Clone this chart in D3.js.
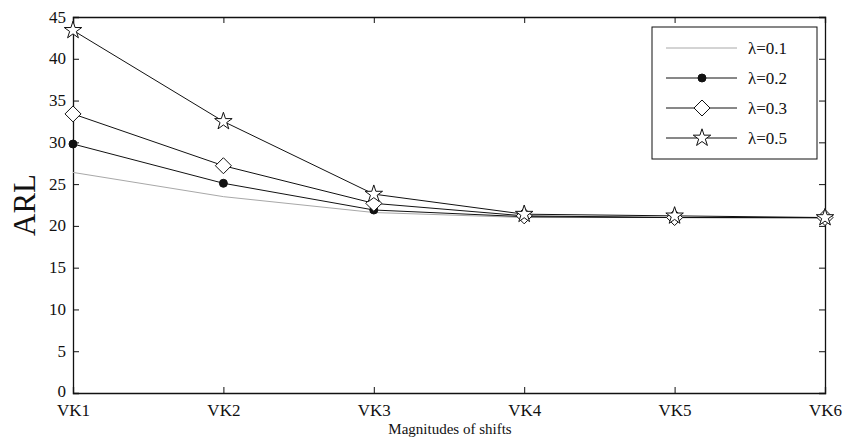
<!DOCTYPE html>
<html>
<head>
<meta charset="utf-8">
<script src="https://cdn.jsdelivr.net/npm/d3@7"></script>
<style>
  html, body { margin: 0; padding: 0; background: #fff; }
  #chart { width: 856px; height: 446px; }
  svg text { font-family: "Liberation Serif", "DejaVu Serif", serif !important; fill: #111; }
</style>
</head>
<body>
<div id="chart"></div>
<script>
// 数据
const categories = ["VK1", "VK2", "VK3", "VK4", "VK5", "VK6"];
const yTicks = [0, 5, 10, 15, 20, 25, 30, 35, 40, 45];
const seriesNames = ["λ=0.1", "λ=0.2", "λ=0.3", "λ=0.5"];
const lambda01 = [26.4, 23.5, 21.6, 21.0, 21.0, 20.9];
const lambda02 = [29.8, 25.1, 21.9, 21.1, 21.0, 21.0];
const lambda03 = [33.4, 27.2, 22.7, 21.2, 21.0, 21.0];
const lambda05 = [43.4, 32.5, 23.8, 21.4, 21.2, 21.0];

document.addEventListener("DOMContentLoaded", () => {
    const width = 856, height = 446;
    const margin = { left: 73, right: 31, top: 17, bottom: 53 };
    const innerW = width - margin.left - margin.right;
    const innerH = height - margin.top - margin.bottom;
    const serif = "'Liberation Serif', 'DejaVu Serif', serif";

    const svg = d3.select("#chart").append("svg")
        .attr("width", width)
        .attr("height", height);

    const g = svg.append("g")
        .attr("transform", `translate(${margin.left},${margin.top})`);

    const x = d3.scalePoint().domain(categories).range([0, innerW]);
    const y = d3.scaleLinear().domain([0, 45]).range([innerH, 0]);

    // 系列定义
    const series = [
        { name: seriesNames[0], values: lambda01, color: "#a8a8a8", width: 1, marker: null },
        { name: seriesNames[1], values: lambda02, color: "#111", width: 1, marker: "circle" },
        { name: seriesNames[2], values: lambda03, color: "#111", width: 1, marker: "diamond" },
        { name: seriesNames[3], values: lambda05, color: "#111", width: 1, marker: "star" }
    ];

    const line = d3.line()
        .x((d, i) => x(categories[i]))
        .y(d => y(d));

    // 坐标轴（刻度朝内，四边框）
    const tickLen = 6;
    const axisBottom = g.append("g")
        .attr("transform", `translate(0,${innerH})`)
        .call(d3.axisBottom(x).tickSize(-tickLen).tickPadding(11));
    const axisTop = g.append("g")
        .call(d3.axisTop(x).tickSize(-tickLen).tickFormat(""));
    const axisLeft = g.append("g")
        .call(d3.axisLeft(y).tickValues(yTicks).tickSize(-tickLen).tickPadding(7));
    const axisRight = g.append("g")
        .attr("transform", `translate(${innerW},0)`)
        .call(d3.axisRight(y).tickValues(yTicks).tickSize(-tickLen).tickFormat(""));

    [axisBottom, axisTop, axisLeft, axisRight].forEach(a => {
        a.attr("font-family", null).attr("font-size", null);
        a.select(".domain").attr("stroke", "#111").attr("stroke-width", 1.3);
        a.selectAll(".tick line").attr("stroke", "#111");
        a.selectAll("text")
            .style("font-family", serif)
            .style("font-size", "17px")
            .attr("fill", "#111");
    });
    axisBottom.selectAll("text").attr("dy", "0.68em");
    axisLeft.selectAll("text").attr("dy", d => d === 0 ? "0.2em" : "0.3em");

    // 标记符号
    const diamondPath = () => {
        const r = 8;
        return `M0,${-r}L${r},0L0,${r}L${-r},0Z`;
    };
    const symbols = {
        circle: d3.symbol().type(d3.symbolCircle).size(50),
        diamond: diamondPath,
        star: d3.symbol().type(d3.symbolStar).size(95)
    };

    function drawMarker(sel, marker) {
        sel.append("path")
            .attr("d", symbols[marker]())
            .attr("fill", marker === "circle" ? "#111" : "#fff")
            .attr("stroke", "#111")
            .attr("stroke-width", 1);
    }

    // 绘制折线与标记
    series.forEach(s => {
        g.append("path")
            .datum(s.values)
            .attr("fill", "none")
            .attr("stroke", s.color)
            .attr("stroke-width", s.width)
            .attr("d", line);
    });
    series.forEach(s => {
        if (!s.marker) return;
        s.values.forEach((v, i) => {
            const m = g.append("g")
                .attr("transform", `translate(${x(categories[i])},${y(v)})`);
            drawMarker(m, s.marker);
        });
    });

    // 图例
    const legend = g.append("g")
        .attr("transform", `translate(${652 - margin.left},${27 - margin.top})`);
    legend.append("rect")
        .attr("width", 165)
        .attr("height", 132)
        .attr("fill", "#fff")
        .attr("stroke", "#111")
        .attr("stroke-width", 1);
    series.forEach((s, i) => {
        const ly = 21 + i * 30;
        const row = legend.append("g").attr("transform", `translate(0,${ly})`);
        row.append("line")
            .attr("x1", 14).attr("x2", 85)
            .attr("y1", 0).attr("y2", 0)
            .attr("stroke", s.color)
            .attr("stroke-width", s.width);
        if (s.marker) {
            const m = row.append("g").attr("transform", "translate(50,0)");
            drawMarker(m, s.marker);
        }
        row.append("text")
            .attr("x", 96)
            .attr("y", 6)
            .style("font-family", serif)
            .style("font-size", "17px")
            .text(s.name);
    });

    // 轴标题
    svg.append("text")
        .attr("transform", `translate(35,${margin.top + innerH / 2}) rotate(-90)`)
        .attr("text-anchor", "middle")
        .style("font-family", serif)
        .style("font-size", "31px")
        .text("ARL");

    svg.append("text")
        .attr("x", 450)
        .attr("y", 434)
        .attr("text-anchor", "middle")
        .style("font-family", serif)
        .style("font-size", "15px")
        .text("Magnitudes of shifts");
});
</script>
</body>
</html>
